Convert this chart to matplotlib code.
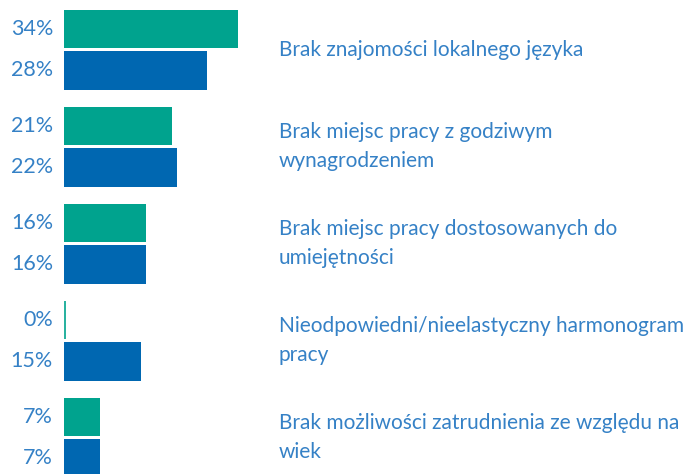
import matplotlib
matplotlib.use("Agg")
import matplotlib.pyplot as plt
import matplotlib.transforms as mtransforms
import numpy as np

categories = [
    "Brak znajomości lokalnego języka",
    "Brak miejsc pracy z godziwym\nwynagrodzeniem",
    "Brak miejsc pracy dostosowanych do\numiejętności",
    "Nieodpowiedni/nieelastyczny harmonogram\npracy",
    "Brak możliwości zatrudnienia ze względu na\nwiek",
]
green_vals = [34, 21, 16, 0, 7]
blue_vals = [28, 22, 16, 15, 7]

GREEN = "#00A38E"
BLUE = "#0067B1"
TEXT = "#3581C6"

plt.rcParams["font.family"] = ["Lato", "DejaVu Sans"]

W, H = 685, 474
fig = plt.figure(figsize=(W / 100, H / 100), dpi=100)
ax = fig.add_axes([64 / W, 0, 1 - 64 / W, 1])

px_per_pct = 5.12
ax.set_xlim(0, (W - 64) / px_per_pct)
# one unit per group, group centres at integer positions
group_px = 97.0
ax.set_ylim((H - 49.75) / group_px, -49.75 / group_px)
ax.axis("off")

pos = np.arange(len(categories))
off = 0.2115
h = 0.397
ax.barh(pos - off, green_vals, height=h, color=GREEN, linewidth=0)
ax.barh(pos + off, blue_vals, height=h, color=BLUE, linewidth=0)
# zero-width bar still shows as a thin line
for y, v in zip(pos - off, green_vals):
    if v == 0:
        ax.vlines(0.1, y - h / 2, y + h / 2, color=GREEN, linewidth=1.2)

for y, v in list(zip(pos - off, green_vals)) + list(zip(pos + off, blue_vals)):
    ax.annotate(f"{v}%", xy=(0, y), xytext=(-11, 0), textcoords="offset pixels",
                ha="right", va="center", fontsize=15.5, color=TEXT)

tr = mtransforms.blended_transform_factory(fig.transFigure, ax.transData)
for y, label in zip(pos, categories):
    fig.text(279 / W, y, label, transform=tr, ha="left", va="center",
             fontsize=15, color=TEXT, linespacing=1.55)

fig.savefig("out.png", dpi=100)
